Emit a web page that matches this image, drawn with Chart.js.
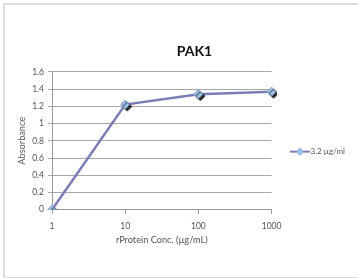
<!DOCTYPE html>
<html>
<head>
<meta charset="utf-8">
<script src="https://cdn.jsdelivr.net/npm/chart.js@4"></script>
<style>
  body { margin: 0; background: #fff; }
  #frame { position: absolute; left: 3px; top: 3px; width: 360px; height: 272px; border: 2px solid #dcdcdc; border-right: none; }
  #wrap { position: absolute; left: 0; top: 0; width: 358px; height: 278px; }
</style>
</head>
<body>
<div id="frame"></div>
<div id="wrap"><canvas id="myChart" width="358" height="278"></canvas></div>
<script>
// data
const concLabels = ['1', '10', '100', '1000'];
const absorbance = [0, 1.22, 1.34, 1.37];
const seriesName = '3.2 µg/ml';
const yMin = 0, yMax = 1.6, yStep = 0.2;

const lineColor = '#7b7eb6';
const markerFill = '#9ec3e8';
const textColor = '#555';
const font = 'Lato';

// little line + diamond picture for the legend
function legendSwatch() {
  const c = document.createElement('canvas');
  c.width = 20; c.height = 10;
  const g = c.getContext('2d');
  g.strokeStyle = lineColor;
  g.lineWidth = 2;
  g.beginPath(); g.moveTo(0, 5); g.lineTo(20, 5); g.stroke();
  g.fillStyle = markerFill;
  g.strokeStyle = '#7f9cc9';
  g.lineWidth = 1;
  g.beginPath(); g.moveTo(10, 1.5); g.lineTo(13.5, 5); g.lineTo(10, 8.5); g.lineTo(6.5, 5); g.closePath();
  g.fill(); g.stroke();
  return c;
}

// shadow under the markers only
const markerShadow = {
  id: 'markerShadow',
  afterLayout(chart) {
    // title sits a bit right of the middle in the original
    if (chart.titleBlock) { chart.titleBlock.left += 10; chart.titleBlock.right += 10; }
  },
  beforeDatasetDraw(chart, args) {
    if (args.index === 0) {
      chart.ctx.save();
      chart.ctx.shadowColor = 'rgba(0,0,0,0.85)';
      chart.ctx.shadowOffsetX = 2;
      chart.ctx.shadowOffsetY = 2;
      chart.ctx.shadowBlur = 1;
    }
  },
  afterDatasetDraw(chart, args) {
    if (args.index === 0) chart.ctx.restore();
  }
};

const ctx = document.getElementById('myChart');
const swatch = legendSwatch();

new Chart(ctx, {
  type: 'line',
  data: {
    labels: concLabels,
    datasets: [{
      label: seriesName,
      data: absorbance,
      showLine: false,
      pointStyle: 'rectRot',
      pointRadius: 4.5,
      pointBackgroundColor: markerFill,
      pointBorderColor: '#7f9cc9',
      pointBorderWidth: 1
    },
    {
      label: 'line',
      data: absorbance,
      borderColor: lineColor,
      borderWidth: 2.5,
      pointRadius: 0,
      tension: 0
    }]
  },
  options: {
    responsive: false,
    animation: false,
    layout: { padding: { left: 14, right: 3, top: 0, bottom: 32 } },
    plugins: {
      title: {
        display: true,
        text: 'PAK1',
        color: '#111',
        font: { family: font, size: 14, weight: 'bold' },
        padding: { top: 43, bottom: 12 }
      },
      legend: {
        position: 'right',
        fullSize: false,
        title: { display: true, text: ' ', font: { size: 8 }, padding: { top: 0, bottom: 12 } },
        labels: {
          usePointStyle: true,
          pointStyle: swatch,
          pointStyleWidth: 13,
          generateLabels: chart => [{
            text: seriesName,
            pointStyle: swatch,
            datasetIndex: 0,
            fontColor: textColor,
            lineWidth: 0
          }],
          color: textColor,
          font: { family: font, size: 8 },
          padding: 22
        }
      },
      tooltip: { enabled: false }
    },
    scales: {
      x: {
        offset: false,
        grid: { drawOnChartArea: false, drawTicks: true, tickLength: 4, color: '#999' },
        border: { color: '#999' },
        ticks: { color: textColor, font: { family: font, size: 8.5 }, padding: 7, maxRotation: 0 },
        title: {
          display: true,
          text: 'rProtein Conc. (µg/mL)',
          color: textColor,
          font: { family: font, size: 9.2 },
          padding: { top: -3, bottom: 0 }
        }
      },
      y: {
        min: yMin,
        max: yMax,
        afterFit: scale => { scale.width = 38; },
        grid: { color: '#a6a6a6', tickLength: 4 },
        border: { color: '#999' },
        ticks: {
          stepSize: yStep,
          color: textColor,
          font: { family: font, size: 8.5 },
          padding: 4,
          callback: v => String(Math.round(v * 10) / 10)
        },
        title: {
          display: true,
          text: 'Absorbance',
          color: textColor,
          font: { family: font, size: 9.2 },
          padding: { top: 3, bottom: 2 }
        }
      }
    }
  },
  plugins: [markerShadow]
});
</script>
</body>
</html>
